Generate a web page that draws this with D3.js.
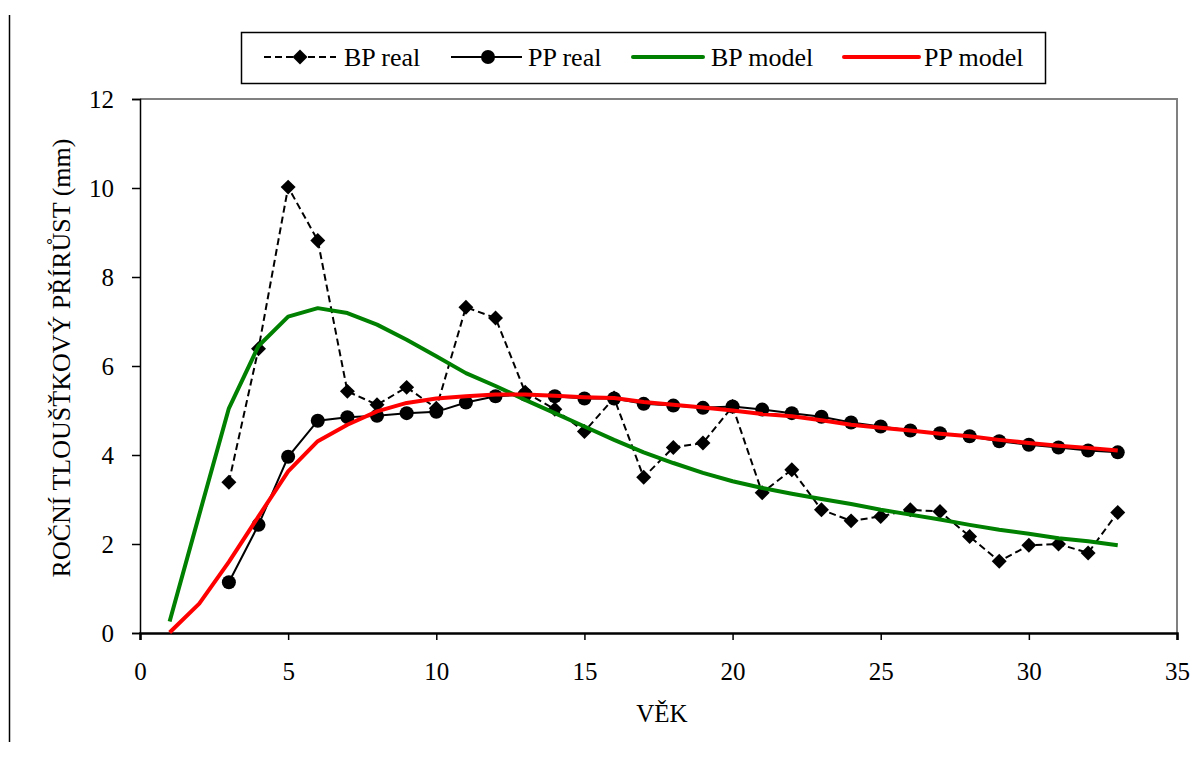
<!DOCTYPE html>
<html>
<head>
<meta charset="utf-8">
<script src="https://cdn.jsdelivr.net/npm/d3@7"></script>
<style>
  body { margin: 0; background: #fff; }
  svg text { font-family: "Liberation Serif", "Times New Roman", serif !important; }
</style>
</head>
<body>
<svg id="graph" width="1203" height="758"></svg>
<script>
// ages (VĚK)
var realAges = d3.range(3, 34);
var modelAges = d3.range(1, 34);

// BP real, ages 3..33
var bpReal = [3.39, 6.39, 10.02, 8.82, 5.43, 5.13, 5.52, 5.05, 7.32, 7.08,
  5.41, 5.03, 4.53, 5.28, 3.50, 4.17, 4.27, 5.09, 3.15, 3.67,
  2.77, 2.52, 2.62, 2.77, 2.73, 2.17, 1.61, 1.97, 2.0, 1.80, 2.71];

// PP real, ages 3..33
var ppReal = [1.14, 2.43, 3.96, 4.77, 4.85, 4.88, 4.94, 4.97, 5.18, 5.32,
  5.36, 5.32, 5.27, 5.27, 5.15, 5.11, 5.06, 5.09, 5.02, 4.94,
  4.86, 4.73, 4.64, 4.55, 4.49, 4.42, 4.31, 4.23, 4.17, 4.10, 4.06];

// BP model, ages 1..33
var bpModel = [0.26, 2.66, 5.05, 6.45, 7.11, 7.30, 7.19, 6.93, 6.59, 6.22,
  5.84, 5.55, 5.24, 4.94, 4.64, 4.34, 4.06, 3.82, 3.60, 3.41,
  3.26, 3.13, 3.01, 2.90, 2.77, 2.66, 2.55, 2.43, 2.32, 2.23,
  2.13, 2.06, 1.97];

// PP model, ages 1..33
var ppModel = [0.01, 0.66, 1.60, 2.62, 3.63, 4.31, 4.68, 4.98, 5.17, 5.27,
  5.32, 5.36, 5.36, 5.33, 5.30, 5.28, 5.19, 5.13, 5.07, 5.0,
  4.92, 4.87, 4.78, 4.68, 4.61, 4.55, 4.48, 4.42, 4.34, 4.27,
  4.21, 4.16, 4.10];

var xTicks = [0, 5, 10, 15, 20, 25, 30, 35];
var yTicks = [0, 2, 4, 6, 8, 10, 12];
var legendNames = ["BP real", "PP real", "BP model", "PP model"];

var svg = d3.select("#graph");

var xScale = d3.scaleLinear().domain([0, 35]).range([140, 1177]);
var yScale = d3.scaleLinear().domain([0, 12]).range([633, 99]);

// outer chart border (left edge only visible)
svg.append("line")
  .attr("x1", 9.5).attr("x2", 9.5)
  .attr("y1", 15).attr("y2", 742)
  .attr("stroke", "#000").attr("stroke-width", 1.5);

// plot area border (top and right)
svg.append("path")
  .attr("d", "M140,99 H1177 V633")
  .attr("fill", "none")
  .attr("stroke", "#808080")
  .attr("stroke-width", 2);

// axes
var xAxis = d3.axisBottom(xScale).tickValues(xTicks).tickSize(7).tickPadding(22);
var yAxis = d3.axisLeft(yScale).tickValues(yTicks).tickSize(8).tickPadding(18);

var gx = svg.append("g").attr("transform", "translate(0,633)").call(xAxis);
var gy = svg.append("g").attr("transform", "translate(140,0)").call(yAxis);

gx.attr("font-family", null);
gy.attr("font-family", null);
gx.select(".domain").attr("stroke", "#000").attr("stroke-width", 2.5);
gy.select(".domain").attr("stroke", "#000").attr("stroke-width", 1.5);
svg.selectAll(".tick line").attr("stroke", "#000").attr("stroke-width", 1.5);
svg.selectAll(".tick text")
  .attr("font-size", "25px")
  .attr("fill", "#000");

// axis titles
svg.append("text")
  .attr("x", 662).attr("y", 722)
  .attr("text-anchor", "middle")
  .attr("font-size", "25px")
  .text("VĚK");

svg.append("text")
  .attr("transform", "translate(70,358) rotate(-90)")
  .attr("text-anchor", "middle")
  .attr("font-size", "26px")
  .text("ROČNÍ TLOUŠŤKOVÝ PŘÍRŮST (mm)");

var diamond = d3.symbol().type(d3.symbolSquare).size(112);

var realLine = d3.line()
  .x(function (d, i) { return xScale(realAges[i]); })
  .y(function (d) { return yScale(d); });

var modelLine = d3.line()
  .x(function (d, i) { return xScale(modelAges[i]); })
  .y(function (d) { return yScale(d); });

// BP real
svg.append("path")
  .attr("d", realLine(bpReal))
  .attr("fill", "none")
  .attr("stroke", "#000")
  .attr("stroke-width", 2)
  .attr("stroke-dasharray", "7,4");

svg.append("g").selectAll("path")
  .data(bpReal)
  .enter()
  .append("path")
  .attr("d", diamond)
  .attr("transform", function (d, i) {
    return "translate(" + xScale(realAges[i]) + "," + yScale(d) + ") rotate(45)";
  })
  .attr("fill", "#000");

// PP real
svg.append("path")
  .attr("d", realLine(ppReal))
  .attr("fill", "none")
  .attr("stroke", "#000")
  .attr("stroke-width", 2);

svg.append("g").selectAll("circle")
  .data(ppReal)
  .enter()
  .append("circle")
  .attr("cx", function (d, i) { return xScale(realAges[i]); })
  .attr("cy", function (d) { return yScale(d); })
  .attr("r", 7)
  .attr("fill", "#000");

// BP model
svg.append("path")
  .attr("d", modelLine(bpModel))
  .attr("fill", "none")
  .attr("stroke", "#008000")
  .attr("stroke-width", 4)
  .attr("stroke-linejoin", "round");

// PP model
svg.append("path")
  .attr("d", modelLine(ppModel))
  .attr("fill", "none")
  .attr("stroke", "#ff0000")
  .attr("stroke-width", 4)
  .attr("stroke-linejoin", "round");

// legend
var legend = svg.append("g");
legend.append("rect")
  .attr("x", 241.5).attr("y", 32.5)
  .attr("width", 804).attr("height", 51)
  .attr("fill", "#fff")
  .attr("stroke", "#000")
  .attr("stroke-width", 1.5);

var ly = 57;
// BP real sample
legend.append("line")
  .attr("x1", 264).attr("x2", 336).attr("y1", ly).attr("y2", ly)
  .attr("stroke", "#000").attr("stroke-width", 2).attr("stroke-dasharray", "7,4");
legend.append("path")
  .attr("d", diamond)
  .attr("transform", "translate(300," + ly + ") rotate(45)")
  .attr("fill", "#000");
// PP real sample
legend.append("line")
  .attr("x1", 451).attr("x2", 522).attr("y1", ly).attr("y2", ly)
  .attr("stroke", "#000").attr("stroke-width", 2);
legend.append("circle")
  .attr("cx", 488).attr("cy", ly).attr("r", 7).attr("fill", "#000");
// BP model sample
legend.append("line")
  .attr("x1", 633).attr("x2", 703).attr("y1", ly).attr("y2", ly)
  .attr("stroke", "#008000").attr("stroke-width", 4).attr("stroke-linecap", "round");
// PP model sample
legend.append("line")
  .attr("x1", 844).attr("x2", 919).attr("y1", ly).attr("y2", ly)
  .attr("stroke", "#ff0000").attr("stroke-width", 4).attr("stroke-linecap", "round");

var textX = [344, 528, 711, 924];
legend.selectAll("text.lg")
  .data(legendNames)
  .enter()
  .append("text")
  .attr("class", "lg")
  .attr("x", function (d, i) { return textX[i]; })
  .attr("y", ly + 9)
  .attr("font-size", "26px")
  .text(function (d) { return d; });
</script>
</body>
</html>
